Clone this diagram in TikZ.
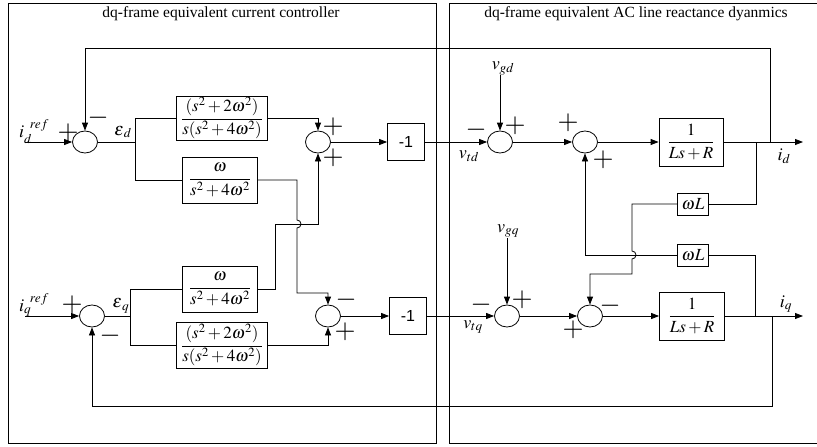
\documentclass[tikz,border=0pt]{standalone}
\usepackage{amsmath}
\usepackage{mathptmx}
\usepackage{fontspec}
\setmainfont{Liberation Serif}
\setsansfont{Liberation Sans}
\usetikzlibrary{arrows.meta,shapes.geometric}
\newcommand{\blkfont}{\fontsize{17}{20}\selectfont}
\newcommand{\lblfont}{\fontsize{18}{21}\selectfont}
\newcommand{\sgnfont}{\fontsize{27}{27}\selectfont}
\newcommand{\ttlfont}{\fontsize{15.5}{18}\selectfont}

\begin{document}
\begin{tikzpicture}[x=1pt,y=-1pt,line width=0.8pt,>={Triangle[length=8pt,width=6pt]}]
\tikzstyle{blk}=[draw, align=center, inner sep=1pt, font=\blkfont]
\tikzstyle{sum}=[draw, ellipse, minimum width=25pt, minimum height=22pt, inner sep=0pt]
\tikzstyle{sgn}=[font=\sgnfont, inner sep=0pt]
\tikzstyle{lbl}=[font=\lblfont, inner sep=0pt]
\useasboundingbox (0,0) rectangle (817,447);
% the two panels
\draw (8,3) rectangle (436,443);
\draw (817,3) -- (449,3) -- (449,443) -- (817,443);
\node[font=\ttlfont] (ttlL) at (221,14) {dq-frame equivalent current controller};
\node[font=\ttlfont] (ttlR) at (636,14) {dq-frame equivalent AC line reactance dyanmics};
% summing junctions
\node[sum] (sd1) at (85,142) {};
\node[sum] (sd2) at (318,142) {};
\node[sum] (sd3) at (500,142) {};
\node[sum] (sd4) at (585,142) {};
\node[sum] (sq1) at (92,316) {};
\node[sum] (sq2) at (328,316) {};
\node[sum] (sq3) at (507,316) {};
\node[sum] (sq4) at (590,316) {};
% controller blocks
\node[blk, minimum width=91pt, minimum height=44pt] (Gd1) at (222,118) {$\dfrac{(s^2+2\omega^2)}{s(s^2+4\omega^2)}$};
\node[blk, minimum width=75pt, minimum height=46pt] (Gd2) at (220,180) {$\dfrac{\omega}{s^2+4\omega^2}$};
\node[blk, minimum width=75pt, minimum height=46pt] (Gq1) at (220,289) {$\dfrac{\omega}{s^2+4\omega^2}$};
\node[blk, minimum width=91pt, minimum height=46pt] (Gq2) at (222,345) {$\dfrac{(s^2+2\omega^2)}{s(s^2+4\omega^2)}$};
\node[blk, font=\sffamily\fontsize{16}{18}\selectfont, minimum width=37pt, minimum height=37pt] (negd) at (406,142) {-1};
\node[blk, font=\sffamily\fontsize{16}{18}\selectfont, minimum width=37pt, minimum height=37pt] (negq) at (408,316) {-1};
% line blocks
\node[blk, minimum width=64pt, minimum height=48pt] (Pd) at (691,142) {$\dfrac{1}{Ls+R}$};
\node[blk, minimum width=65pt, minimum height=48pt] (Pq) at (692,316) {$\dfrac{1}{Ls+R}$};
\node[blk, minimum width=31pt, minimum height=22pt] (wLd) at (693,204) {$\omega L$};
\node[blk, minimum width=31pt, minimum height=22pt] (wLq) at (693,255) {$\omega L$};
% labels
\node[lbl] (idref) at (34,132) {$i_d^{\;\;ref}$};
\node[lbl] (iqref) at (34,305) {$i_q^{\;\;ref}$};
\node[lbl] (epsd) at (123,132) {$\varepsilon_{\,d}$};
\node[lbl] (epsq) at (121,306) {$\varepsilon_{\,q}$};
\node[lbl] (vtd) at (469,156) {$v_{td}$};
\node[lbl] (vtq) at (473,327) {$v_{tq}$};
\node[lbl] (vgd) at (503,68) {$v_{gd}$};
\node[lbl] (vgq) at (508,231) {$v_{gq}$};
\node[lbl] (id) at (784,156) {$i_d$};
\node[lbl] (iq) at (786,304) {$i_q$};
% signs
\node[sgn] (d1p) at (68,133) {$+$};
\node[sgn] (d1m) at (98,118) {$-$};
\node[sgn] (d2p) at (333,127) {$+$};
\node[sgn] (d2q) at (333,158) {$+$};
\node[sgn] (d3m) at (476,130) {$-$};
\node[sgn] (d3p) at (515,126) {$+$};
\node[sgn] (d4p) at (568,123) {$+$};
\node[sgn] (d4q) at (603,160) {$+$};
\node[sgn] (q1p) at (72,305) {$+$};
\node[sgn] (q1m) at (110,336) {$-$};
\node[sgn] (q2m) at (346,300) {$-$};
\node[sgn] (q2p) at (345,332) {$+$};
\node[sgn] (q3m) at (481,305) {$-$};
\node[sgn] (q3p) at (522,300) {$+$};
\node[sgn] (q4p) at (573,330) {$+$};
\node[sgn] (q4m) at (610,306) {$-$};
% free ends and branch points
\coordinate (ind) at (25,142);
\coordinate (inq) at (25,316);
\coordinate (outd) at (803,142);
\coordinate (outq) at (803,316);
\coordinate (bd) at (135,142);
\coordinate (bq) at (130,316);
\coordinate (kd) at (756,142);
\coordinate (fd) at (770,142);
\coordinate (kq) at (755,316);
\coordinate (fq) at (772,316);
% d channel
\draw[->] (ind) -- (sd1);
\draw (sd1) -- (bd);
\draw (bd) |- (Gd1);
\draw (bd) |- (Gd2);
\draw[->] (Gd1) -| (sd2);
\draw[->] (Gd2) -| (297,220) arc[start angle=90, end angle=-90, radius=4pt] -- (297,293) -| (sq2);
\draw[->] (sd2) -- (negd);
\draw[->] (negd) -- (sd3);
\draw[->] (vgd.south -| sd3) -- (sd3);
\draw[->] (sd3) -- (sd4);
\draw[->] (sd4) -- (Pd);
\draw[->] (Pd) -- (outd);
\draw[->] (fd) -- (770,48) -| (sd1);
\draw (kd) |- (wLd);
\draw[->] (wLd) -| (632,251) arc[start angle=90, end angle=-90, radius=4pt] -- (632,274) -| (sq4);
% q channel
\draw[->] (inq) -- (sq1);
\draw (sq1) -- (bq);
\draw (bq) |- (Gq1);
\draw (bq) |- (Gq2);
\draw[->] (Gq1) -| (275,224) -| (sd2);
\draw[->] (Gq2) -| (sq2);
\draw[->] (sq2) -- (negq);
\draw[->] (negq) -- (sq3);
\draw[->] (vgq.south -| sq3) -- (sq3);
\draw[->] (sq3) -- (sq4);
\draw[->] (sq4) -- (Pq);
\draw[->] (Pq) -- (outq);
\draw[->] (fq) -- (772,406) -| (sq1);
\draw (kq) |- (wLq);
\draw[->] (wLq) -| (sd4);
\end{tikzpicture}
\end{document}
